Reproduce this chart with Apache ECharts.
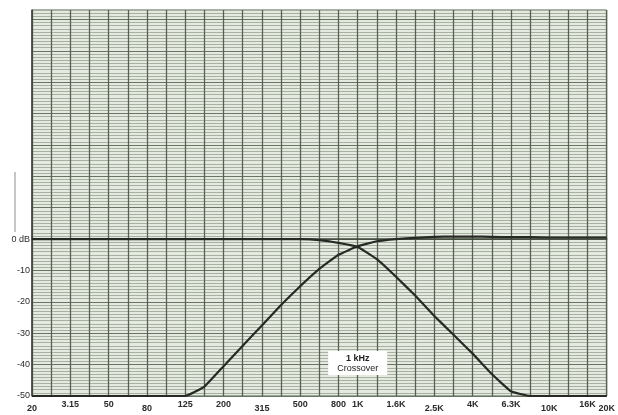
<!DOCTYPE html>
<html>
<head>
<meta charset="utf-8">
<script src="https://cdn.jsdelivr.net/npm/echarts@6/dist/echarts.min.js"></script>
<style>
  html, body { margin: 0; padding: 0; background: #ffffff; }
  #chart { width: 618px; height: 415px; }
</style>
</head>
<body>
<div id="chart"></div>
<script>
// 1/3-octave bands, 20 Hz .. 20 kHz
const bands = ['20', '25', '31.5', '40', '50', '63', '80', '100', '125', '160', '200', '250',
  '315', '400', '500', '630', '800', '1K', '1.25K', '1.6K', '2K', '2.5K', '3.15K', '4K',
  '5K', '6.3K', '8K', '10K', '12.5K', '16K', '20K'];
// labels as printed under the paper ('' = no label)
const bandLabels = ['20', '', '3.15', '', '50', '', '80', '', '125', '', '200', '',
  '315', '', '500', '', '800', '1K', '', '1.6K', '', '2.5K', '', '4K',
  '', '6.3K', '', '10K', '', '16K', '20K'];
// labels printed a little lower on the scan
const lowLabels = ['20', '80', '315', '2.5K', '10K', '20K'];

// response in dB (clipped at -50)
const highPass = [-50, -50, -50, -50, -50, -50, -50, -50, -50, -47, -40.5, -34, -27.5,
  -21, -15, -9.5, -5, -2.3, -0.7, 0, 0.4, 0.7, 0.8, 0.8, 0.7, 0.6, 0.6, 0.5, 0.5, 0.5, 0.5];
const lowPass = [0, 0, 0, 0, 0, 0, 0, 0, 0, 0, 0, 0, 0, 0, 0, -0.3, -1.2, -2.5, -6.4,
  -12, -18, -24.5, -30.5, -36.5, -43, -48.5, -50, -50, -50, -50, -50];

const chart = echarts.init(document.getElementById('chart'));

const hLineColors = ['#6a7465', '#a8b0a4', '#a8b0a4', '#a8b0a4', '#a8b0a4',
  '#a8b0a4', '#a8b0a4', '#a8b0a4', '#a8b0a4', '#a8b0a4'];

chart.setOption({
  animation: false,
  backgroundColor: '#ffffff',
  grid: {
    left: 32, right: 9, top: 10, bottom: 19,
    show: true, backgroundColor: '#e5eae1', borderColor: '#55604f', borderWidth: 1
  },
  xAxis: {
    type: 'category',
    data: bands,
    boundaryGap: false,
    axisLine: { lineStyle: { color: '#3c4438', width: 1.5 } },
    axisTick: { show: false },
    axisLabel: {
      interval: 0,
      margin: 4,
      fontFamily: 'Liberation Sans, Arial, sans-serif',
      fontSize: 9,
      fontWeight: 'bold',
      color: '#2b2b2b',
      formatter: (v, i) => {
        const t = bandLabels[i];
        if (!t) return '';
        return lowLabels.includes(t) ? '{lo|' + t + '}' : t;
      },
      rich: { lo: { padding: [4, 0, 0, 0], fontSize: 9, fontWeight: 'bold', color: '#2b2b2b' } }
    },
    splitLine: { show: true, lineStyle: { color: '#56614f', width: 1.3 } }
  },
  yAxis: {
    type: 'value',
    min: -50, max: 73, interval: 1,
    axisLine: { show: true, lineStyle: { color: '#3c4438', width: 1.5 } },
    axisTick: { show: false },
    axisLabel: {
      margin: 2,
      fontFamily: 'Liberation Sans, Arial, sans-serif',
      fontSize: 9,
      color: '#2b2b2b',
      formatter: v => {
        if (v === 0) return '0 dB';
        if (v < 0 && v % 10 === 0) return String(v);
        return '';
      }
    },
    splitLine: { show: true, lineStyle: { color: hLineColors, width: 1 } }
  },
  graphic: [
    { type: 'line', shape: { x1: 15, y1: 172, x2: 15, y2: 232 }, style: { stroke: '#8a9086', lineWidth: 1 } }
  ],
  series: [
    {
      name: 'high pass',
      type: 'line',
      data: highPass,
      symbol: 'none',
      smooth: 0.1,
      lineStyle: { color: '#262924', width: 2.2 },
      markPoint: {
        symbol: 'rect', symbolSize: 0,
        data: [{ coord: [17, -39.5] }],
        label: {
          show: true,
          position: 'inside',
          formatter: '{a|1 kHz}\n{b|Crossover}',
          backgroundColor: '#ffffff',
          padding: [2, 9, 2, 9],
          rich: {
            a: { fontFamily: 'Liberation Sans, Arial, sans-serif', fontSize: 9, fontWeight: 'bold', color: '#222', lineHeight: 10, align: 'center' },
            b: { fontFamily: 'Liberation Sans, Arial, sans-serif', fontSize: 9, color: '#222', lineHeight: 10, align: 'center' }
          }
        }
      }
    },
    {
      name: 'low pass',
      type: 'line',
      data: lowPass,
      symbol: 'none',
      smooth: 0.1,
      lineStyle: { color: '#262924', width: 2.2 }
    }
  ]
});
</script>
</body>
</html>
